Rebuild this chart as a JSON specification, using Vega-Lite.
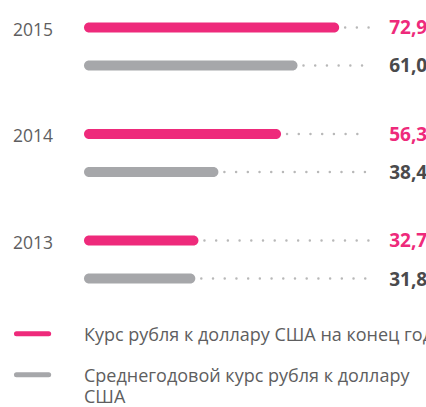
{
  "$schema": "https://vega.github.io/schema/vega-lite/v6.json",
  "width": 426,
  "height": 407,
  "autosize": "none",
  "padding": 0,
  "background": "white",
  "config": {"view": {"stroke": null}, "font": "Open Sans", "locale": {"number": {"decimal": ",", "thousands": " ", "grouping": [3], "currency": ["", " ₽"]}}},
  "datasets": {
    "rates": [
      {"year": "2015", "series": "end", "value": 72.9, "row": 0},
      {"year": "2015", "series": "avg", "value": 61.0, "row": 1},
      {"year": "2014", "series": "end", "value": 56.3, "row": 2.8},
      {"year": "2014", "series": "avg", "value": 38.4, "row": 3.8},
      {"year": "2013", "series": "end", "value": 32.7, "row": 5.6},
      {"year": "2013", "series": "avg", "value": 31.8, "row": 6.6}
    ],
    "legend": [
      {"series": "end", "label": ["Курс рубля к доллару США на конец года"], "row": 8.05},
      {"series": "avg", "label": ["Среднегодовой курс рубля к доллару", "США"], "row": 9.13}
    ]
  },
  "layer": [
    {
      "data": {"name": "rates"},
      "mark": {"type": "rule", "strokeDash": [0.01, 11.7], "strokeCap": "round", "strokeWidth": 2.5, "color": "#b8b8b8", "xOffset": 6},
      "encoding": {
        "x": {"field": "value", "type": "quantitative", "scale": {"domain": [-24, 97.714], "range": [0, 426], "zero": false, "nice": false}, "axis": null},
        "x2": {"datum": 81.4},
        "y": {"field": "row", "type": "quantitative", "scale": {"domain": [-0.59, 9.846], "range": [0, 407], "nice": false, "zero": false}, "axis": null}
      }
    },
    {
      "data": {"name": "rates"},
      "mark": {"type": "bar", "orient": "horizontal", "size": 10, "cornerRadius": 5},
      "encoding": {
        "x": {"field": "value", "type": "quantitative"},
        "x2": {"datum": 0},
        "y": {"field": "row", "type": "quantitative"},
        "color": {"field": "series", "type": "nominal", "scale": {"domain": ["end", "avg"], "range": ["#ee2a7b", "#a6a7aa"]}, "legend": null}
      }
    },
    {
      "data": {"name": "rates"},
      "mark": {"type": "text", "align": "left", "baseline": "alphabetic", "fontSize": 19, "fontWeight": "bold", "dy": 7},
      "encoding": {
        "x": {"datum": 87.2, "type": "quantitative"},
        "y": {"field": "row", "type": "quantitative"},
        "text": {"field": "value", "type": "quantitative", "format": ".1f"},
        "color": {"condition": {"test": "datum.series === 'end'", "value": "#ee2a7b"}, "value": "#4a4a4c"}
      }
    },
    {
      "data": {"name": "rates"},
      "transform": [{"filter": "datum.series === 'end'"}],
      "mark": {"type": "text", "align": "left", "baseline": "alphabetic", "fontSize": 17.5, "color": "#5e5e60", "dy": 8.5},
      "encoding": {
        "x": {"datum": -20.3, "type": "quantitative"},
        "y": {"field": "row", "type": "quantitative"},
        "text": {"field": "year", "type": "nominal"}
      }
    },
    {
      "data": {"name": "legend"},
      "mark": {"type": "rule", "strokeWidth": 5, "strokeCap": "round"},
      "encoding": {
        "x": {"datum": -19.3, "type": "quantitative"},
        "x2": {"datum": -10.1},
        "y": {"field": "row", "type": "quantitative"},
        "color": {"field": "series", "type": "nominal", "legend": null}
      }
    },
    {
      "data": {"name": "legend"},
      "mark": {"type": "text", "align": "left", "baseline": "alphabetic", "fontSize": 18, "lineHeight": 21, "color": "#5e5e60", "dy": 7.5},
      "encoding": {
        "x": {"datum": 0, "type": "quantitative"},
        "y": {"field": "row", "type": "quantitative"},
        "text": {"field": "label", "type": "nominal"}
      }
    }
  ]
}
